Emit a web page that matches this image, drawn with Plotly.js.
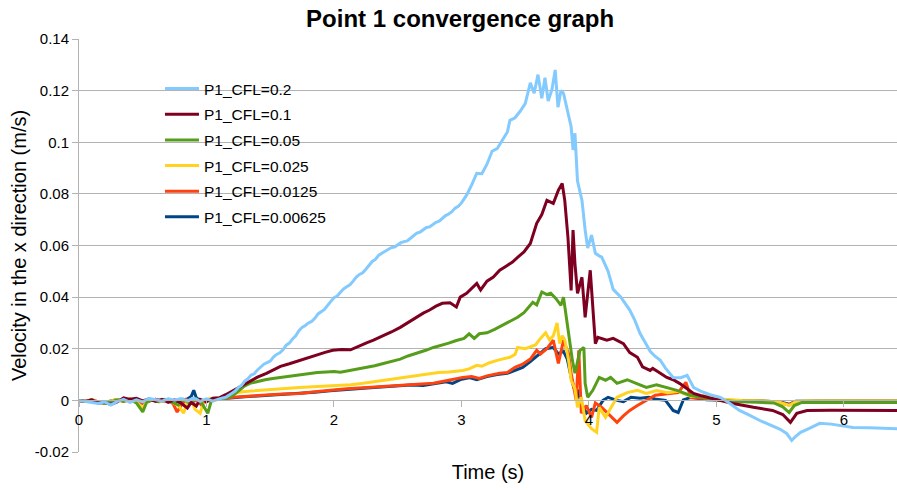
<!DOCTYPE html>
<html>
<head>
<meta charset="utf-8">
<script src="https://cdn.plot.ly/plotly-3.0.1.min.js"></script>
<style>
  html, body { margin: 0; padding: 0; background: #fff; }
  #chart { width: 897px; height: 490px; }
</style>
</head>
<body>
<div id="chart"></div>
<script>
// Point 1 velocity (x direction) for each CFL number, time in seconds.

const seriesNames = ['P1_CFL=0.00625', 'P1_CFL=0.0125', 'P1_CFL=0.025', 'P1_CFL=0.05', 'P1_CFL=0.1', 'P1_CFL=0.2'];
const seriesColors = ['#004586', '#ff420e', '#ffd320', '#579d1c', '#7e0021', '#83caff'];

const t00625 = [0,0.05,0.1,0.15,0.2,0.25,0.3,0.35,0.4,0.45,0.5,0.55,0.6,0.65,0.7,0.75,0.8,0.85,0.88,0.9,0.92,0.96,1.0,1.05,1.12,1.21,1.3,1.4,1.5,1.6,1.73,1.85,1.97,2.1,2.26,2.4,2.5,2.6,2.7,2.78,2.88,2.93,3.0,3.06,3.12,3.2,3.28,3.36,3.42,3.48,3.54,3.6,3.66,3.72,3.76,3.8,3.83,3.86,3.88,3.91,3.94,3.98,4.02,4.06,4.11,4.15,4.22,4.27,4.33,4.4,4.47,4.53,4.6,4.66,4.7,4.74,4.8,4.92,5.03,5.2,5.4,5.5,5.57,5.62,5.8,6.1,6.42];
const v00625 = [0,-0.0004,0.0002,-0.0006,-0.0008,-0.0003,0.0003,-0.0002,0.0005,-0.0004,-0.0010,-0.0002,0.0004,-0.0003,0.0004,-0.0006,-0.0002,0.0005,0.0015,0.0039,0.0010,-0.0004,0.0002,0.0004,0.0006,0.0010,0.0014,0.0017,0.0020,0.0023,0.0026,0.0031,0.0037,0.0043,0.0048,0.0053,0.0056,0.0060,0.0058,0.0064,0.0072,0.0066,0.0082,0.0088,0.0080,0.0092,0.0100,0.0105,0.0118,0.0128,0.0150,0.0175,0.0200,0.0205,0.0180,0.0190,0.0160,0.0090,0.0050,0.0039,-0.0010,-0.0050,-0.0035,-0.0039,0.0000,0.0012,0.0000,-0.0005,0.0012,0.0008,0.0012,0.0004,0.0000,-0.0039,-0.0047,0.0002,0.0012,0.0002,0.0000,-0.0001,-0.0003,-0.0006,-0.0015,-0.0003,-0.0002,-0.0002,-0.0002];

const t0125 = [0,0.05,0.1,0.15,0.2,0.25,0.3,0.35,0.4,0.45,0.5,0.55,0.6,0.65,0.7,0.74,0.77,0.8,0.84,0.88,0.92,0.96,1.0,1.05,1.12,1.21,1.3,1.4,1.5,1.6,1.73,1.85,1.97,2.1,2.26,2.4,2.49,2.6,2.78,2.9,3.01,3.08,3.14,3.2,3.3,3.36,3.42,3.48,3.54,3.59,3.62,3.67,3.72,3.76,3.8,3.84,3.86,3.9,3.92,3.94,3.98,4.02,4.05,4.1,4.16,4.22,4.27,4.32,4.38,4.45,4.52,4.6,4.7,4.76,4.8,4.9,5.03,5.2,5.4,5.5,5.57,5.62,5.8,6.1,6.42];
const v0125 = [0,-0.0003,0.0002,-0.0006,-0.0009,-0.0004,0.0002,-0.0003,0.0005,-0.0004,-0.0012,-0.0002,0.0004,-0.0004,0.0003,-0.0015,-0.0045,-0.0020,0.0004,-0.0010,0.0002,-0.0018,-0.0002,0.0004,0.0006,0.0012,0.0016,0.0019,0.0022,0.0025,0.0027,0.0033,0.0039,0.0045,0.0050,0.0055,0.0058,0.0062,0.0066,0.0078,0.0089,0.0092,0.0085,0.0095,0.0105,0.0108,0.0128,0.0140,0.0160,0.0194,0.0180,0.0200,0.0233,0.0143,0.0233,0.0180,0.0105,0.0000,0.0194,-0.0050,-0.0020,-0.0066,-0.0010,-0.0027,-0.0058,-0.0085,-0.0060,-0.0039,-0.0020,0.0000,0.0020,0.0025,0.0030,0.0070,0.0010,0.0008,0.0000,-0.0002,-0.0004,-0.0008,-0.0018,-0.0004,-0.0003,-0.0003,-0.0003];

const t025 = [0,0.05,0.1,0.15,0.2,0.25,0.3,0.35,0.4,0.45,0.5,0.53,0.58,0.63,0.68,0.73,0.78,0.82,0.85,0.88,0.91,0.95,0.98,1.02,1.08,1.14,1.21,1.28,1.35,1.42,1.5,1.58,1.66,1.73,1.8,1.88,1.97,2.05,2.13,2.23,2.3,2.38,2.45,2.49,2.56,2.62,2.68,2.75,2.82,2.9,2.96,3.01,3.06,3.12,3.16,3.22,3.28,3.33,3.38,3.42,3.44,3.5,3.54,3.58,3.62,3.66,3.69,3.72,3.75,3.77,3.79,3.81,3.84,3.86,3.89,3.91,3.94,3.97,4.02,4.06,4.08,4.13,4.17,4.22,4.3,4.38,4.45,4.53,4.62,4.7,4.8,4.9,5.03,5.2,5.4,5.5,5.57,5.62,5.7,5.9,6.2,6.42];
const v025 = [0,-0.0004,0.0002,-0.0006,-0.0010,-0.0004,0.0004,-0.0002,0.0006,-0.0006,-0.0030,-0.0004,0.0004,-0.0006,0.0002,-0.0008,-0.0020,-0.0050,-0.0006,0.0004,-0.0035,-0.0050,-0.0004,0.0006,0.0008,0.0012,0.0027,0.0033,0.0036,0.0039,0.0042,0.0045,0.0048,0.0050,0.0052,0.0054,0.0055,0.0058,0.0061,0.0066,0.0072,0.0078,0.0082,0.0085,0.0090,0.0094,0.0098,0.0105,0.0108,0.0110,0.0113,0.0116,0.0122,0.0136,0.0132,0.0146,0.0155,0.0162,0.0167,0.0178,0.0205,0.0200,0.0208,0.0215,0.0240,0.0262,0.0235,0.0250,0.0300,0.0220,0.0250,0.0235,0.0155,0.0078,0.0045,-0.0027,0.0012,-0.0078,-0.0110,-0.0124,-0.0027,-0.0066,-0.0030,0.0012,0.0030,0.0039,0.0027,0.0038,0.0030,0.0035,0.0015,0.0018,0.0005,0.0000,-0.0003,-0.0008,-0.0020,-0.0005,-0.0002,-0.0002,-0.0002,-0.0002];

const t05 = [0,0.05,0.1,0.15,0.2,0.25,0.3,0.35,0.4,0.45,0.5,0.53,0.58,0.62,0.67,0.72,0.78,0.82,0.87,0.92,0.96,1.01,1.04,1.08,1.12,1.16,1.21,1.26,1.3,1.34,1.4,1.46,1.52,1.6,1.67,1.73,1.8,1.87,1.94,2.0,2.05,2.1,2.16,2.21,2.26,2.32,2.38,2.45,2.52,2.58,2.65,2.72,2.78,2.84,2.9,2.96,3.02,3.06,3.1,3.14,3.2,3.26,3.32,3.38,3.44,3.49,3.53,3.56,3.59,3.63,3.67,3.7,3.74,3.78,3.8,3.82,3.84,3.87,3.89,3.93,3.96,3.97,3.99,4.03,4.08,4.13,4.17,4.22,4.3,4.37,4.45,4.53,4.61,4.69,4.79,4.9,5.03,5.15,5.3,5.45,5.52,5.57,5.61,5.67,5.8,6.0,6.2,6.42];
const v05 = [0,-0.0004,-0.0002,-0.0008,-0.0012,-0.0006,0.0002,-0.0004,0.0003,-0.0010,-0.0045,-0.0008,0.0002,-0.0005,0.0004,-0.0006,-0.0018,0.0004,-0.0012,0.0006,-0.0008,-0.0050,0.0002,0.0004,0.0006,0.0010,0.0020,0.0042,0.0056,0.0066,0.0074,0.0080,0.0085,0.0090,0.0095,0.0100,0.0104,0.0108,0.0110,0.0112,0.0109,0.0114,0.0118,0.0122,0.0127,0.0134,0.0142,0.0152,0.0160,0.0172,0.0182,0.0194,0.0205,0.0212,0.0222,0.0232,0.0240,0.0258,0.0240,0.0258,0.0262,0.0275,0.0290,0.0305,0.0322,0.0340,0.0365,0.0380,0.0370,0.0420,0.0410,0.0415,0.0395,0.0368,0.0400,0.0322,0.0260,0.0155,0.0105,0.0194,0.0205,0.0066,0.0012,0.0039,0.0089,0.0078,0.0089,0.0066,0.0080,0.0066,0.0050,0.0060,0.0050,0.0039,0.0020,0.0012,0.0000,-0.0004,-0.0006,-0.0010,-0.0025,-0.0047,-0.0020,-0.0008,-0.0008,-0.0008,-0.0008,-0.0008];

const t1 = [0,0.05,0.1,0.15,0.2,0.25,0.3,0.35,0.4,0.45,0.5,0.55,0.6,0.65,0.7,0.75,0.8,0.85,0.88,0.92,0.95,1.0,1.05,1.1,1.15,1.2,1.26,1.3,1.35,1.4,1.47,1.52,1.58,1.65,1.73,1.8,1.86,1.93,1.99,2.06,2.13,2.2,2.26,2.31,2.38,2.45,2.52,2.58,2.64,2.7,2.75,2.8,2.85,2.91,2.96,2.99,3.04,3.09,3.12,3.15,3.2,3.25,3.3,3.35,3.4,3.44,3.49,3.54,3.59,3.63,3.67,3.72,3.76,3.79,3.81,3.835,3.86,3.875,3.89,3.91,3.945,3.97,4.01,4.05,4.07,4.14,4.19,4.27,4.32,4.38,4.42,4.48,4.5,4.56,4.61,4.66,4.71,4.77,4.82,4.88,4.93,5.03,5.13,5.29,5.44,5.52,5.58,5.63,5.71,5.9,6.1,6.3,6.42];
const v1 = [0,-0.0004,0.0002,-0.0010,-0.0008,-0.0016,-0.0006,0.0010,0.0004,0.0008,-0.0002,0.0006,-0.0004,0.0004,-0.0008,0.0002,-0.0010,-0.0030,-0.0008,-0.0022,0.0004,-0.0006,0.0008,0.0010,0.0022,0.0036,0.0050,0.0064,0.0078,0.0090,0.0105,0.0118,0.0132,0.0142,0.0155,0.0165,0.0175,0.0186,0.0194,0.0197,0.0196,0.0212,0.0224,0.0233,0.0248,0.0265,0.0283,0.0302,0.0320,0.0338,0.0350,0.0365,0.0376,0.0378,0.0362,0.0400,0.0415,0.0440,0.0453,0.0428,0.0462,0.0478,0.0504,0.0520,0.0536,0.0554,0.0575,0.0608,0.0686,0.0720,0.0775,0.0763,0.0814,0.0840,0.0775,0.0632,0.0426,0.0660,0.0530,0.0415,0.0477,0.0322,0.0504,0.0220,0.0244,0.0233,0.0240,0.0220,0.0185,0.0167,0.0130,0.0116,0.0124,0.0105,0.0089,0.0080,0.0066,0.0045,0.0027,0.0018,0.0012,0.0000,-0.0012,-0.0027,-0.0039,-0.0055,-0.0085,-0.0050,-0.0039,-0.0038,-0.0039,-0.0039,-0.0039];

const t2 = [0,0.05,0.1,0.15,0.2,0.25,0.3,0.35,0.4,0.45,0.5,0.55,0.6,0.65,0.7,0.75,0.8,0.85,0.9,0.95,1.0,1.05,1.1,1.15,1.2,1.225,1.25,1.275,1.3,1.325,1.35,1.375,1.4,1.425,1.45,1.475,1.5,1.525,1.55,1.575,1.6,1.625,1.65,1.675,1.7,1.725,1.75,1.775,1.8,1.825,1.85,1.875,1.9,1.925,1.95,1.975,2.0,2.025,2.05,2.075,2.1,2.125,2.15,2.175,2.2,2.225,2.25,2.275,2.3,2.325,2.35,2.375,2.4,2.425,2.45,2.475,2.5,2.525,2.55,2.575,2.6,2.625,2.65,2.675,2.7,2.725,2.75,2.775,2.8,2.825,2.85,2.875,2.9,2.925,2.95,2.975,3.0,3.04,3.08,3.12,3.16,3.2,3.24,3.28,3.32,3.36,3.38,3.42,3.46,3.5,3.54,3.57,3.6,3.63,3.655,3.68,3.71,3.735,3.757,3.78,3.8,3.83,3.86,3.875,3.89,3.91,3.945,3.97,3.99,4.02,4.05,4.08,4.1,4.15,4.19,4.25,4.32,4.36,4.4,4.44,4.48,4.52,4.56,4.6,4.66,4.72,4.77,4.82,4.88,4.95,5.03,5.1,5.18,5.25,5.34,5.42,5.5,5.55,5.59,5.62,5.66,5.72,5.81,5.9,6.0,6.07,6.2,6.3,6.42];
const v2 = [0,-0.0005,-0.0008,-0.0012,-0.0006,-0.0018,-0.0004,0.0004,-0.0008,0.0002,-0.0006,0.0008,0.0002,-0.0003,0.0006,0.0001,0.0007,-0.0002,0.0009,-0.0004,0.0006,-0.0003,0.0006,0.0012,0.0028,0.0036,0.0050,0.0058,0.0075,0.0084,0.0098,0.0103,0.0118,0.0131,0.0140,0.0146,0.0152,0.0168,0.0178,0.0184,0.0196,0.0214,0.0222,0.0238,0.0250,0.0270,0.0283,0.0290,0.0300,0.0306,0.0318,0.0335,0.0345,0.0352,0.0368,0.0385,0.0398,0.0404,0.0418,0.0432,0.0440,0.0448,0.0462,0.0478,0.0488,0.0494,0.0508,0.0525,0.0538,0.0546,0.0562,0.0570,0.0578,0.0583,0.0592,0.0594,0.0602,0.0611,0.0615,0.0618,0.0628,0.0640,0.0648,0.0652,0.0660,0.0670,0.0672,0.0681,0.0690,0.0694,0.0705,0.0716,0.0722,0.0731,0.0745,0.0752,0.0765,0.0795,0.0835,0.0880,0.0878,0.0915,0.0965,0.0975,0.1008,0.1040,0.1085,0.1095,0.1120,0.1150,0.1230,0.1190,0.1262,0.1170,0.1250,0.1160,0.1205,0.1280,0.1136,0.1200,0.1190,0.1120,0.1060,0.0970,0.1035,0.0850,0.0775,0.0660,0.0590,0.0640,0.0570,0.0560,0.0555,0.0500,0.0430,0.0400,0.0350,0.0310,0.0260,0.0225,0.0190,0.0170,0.0155,0.0125,0.0089,0.0088,0.0097,0.0050,0.0035,0.0022,0.0012,-0.0010,-0.0039,-0.0055,-0.0078,-0.0095,-0.0112,-0.0128,-0.0155,-0.0140,-0.0124,-0.0110,-0.0089,-0.0092,-0.0100,-0.0105,-0.0106,-0.0108,-0.0110];

const timeSeries = [t00625, t0125, t025, t05, t1, t2];
const velSeries = [v00625, v0125, v025, v05, v1, v2];

const yTickVals = [-0.02, 0, 0.02, 0.04, 0.06, 0.08, 0.1, 0.12, 0.14];
const yTickText = ['-0.02', '0', '0.02', '0.04', '0.06', '0.08', '0.1', '0.12', '0.14'];
const xTickVals = [0, 1, 2, 3, 4, 5, 6];
const xTickText = ['0', '1', '2', '3', '4', '5', '6'];

const FONT = 'Liberation Sans, Arial, sans-serif';
const GRID = '#b3b3b3';

// finest CFL drawn first so the coarsest sits on top; the legend lists the
// coarsest first (legendrank), one legend group each for even row spacing
const traces = seriesNames.map((name, i) => ({
  type: 'scatter',
  mode: 'lines',
  name: name,
  legendgroup: 'g' + i,
  legendrank: seriesNames.length - i,
  x: timeSeries[i],
  y: velSeries[i],
  line: { color: seriesColors[i], width: 3 }
}));

const yMin = -0.02, yMax = 0.14;

const layout = {
  width: 897,
  height: 490,
  margin: { l: 79, r: 0, t: 39, b: 38 },
  paper_bgcolor: '#ffffff',
  plot_bgcolor: '#ffffff',
  font: { family: FONT, color: '#000000', size: 15 },
  showlegend: true,
  title: {
    text: '<b>Point 1 convergence graph</b>',
    font: { family: FONT, size: 24, color: '#000000' },
    x: 0.513, xanchor: 'center', xref: 'container',
    y: 0.963, yanchor: 'middle', yref: 'container'
  },
  xaxis: {
    range: [0, 6.416],
    tickvals: xTickVals,
    ticktext: xTickText,
    anchor: 'free',
    position: (0 - yMin) / (yMax - yMin),
    showline: true,
    linecolor: GRID,
    linewidth: 1,
    ticks: 'outside',
    ticklen: 6,
    tickcolor: GRID,
    showgrid: false,
    zeroline: false,
    tickfont: { family: FONT, size: 15, color: '#000000' },
    title: { text: 'Time (s)', font: { family: FONT, size: 20, color: '#000000' }, standoff: 37 }
  },
  yaxis: {
    range: [yMin, yMax],
    tickvals: yTickVals,
    ticktext: yTickText,
    showline: true,
    linecolor: GRID,
    linewidth: 1,
    ticks: 'outside',
    ticklen: 6,
    tickcolor: GRID,
    showgrid: true,
    gridcolor: GRID,
    gridwidth: 1,
    zeroline: false,
    tickfont: { family: FONT, size: 15, color: '#000000' },
    title: { text: 'Velocity in the x direction (m/s)', font: { family: FONT, size: 20, color: '#000000' }, standoff: 2 }
  },
  legend: {
    x: 0.099, xanchor: 'left',
    y: 0.92, yanchor: 'top',
    bgcolor: 'rgba(0,0,0,0)',
    borderwidth: 0,
    traceorder: 'grouped',
    tracegroupgap: 2.5,
    itemwidth: 34,
    font: { family: FONT, size: 15.5, color: '#000000' }
  },
  hovermode: false
};

Plotly.newPlot('chart', traces, layout, { staticPlot: true, displayModeBar: false });
</script>
</body>
</html>
